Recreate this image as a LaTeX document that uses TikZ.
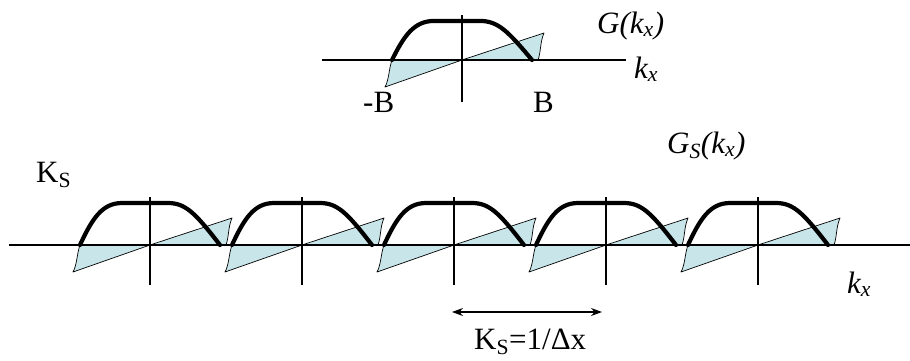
\documentclass[tikz,border=0pt]{standalone}
\usepackage{fontspec}
\setmainfont{Liberation Serif}
\definecolor{specblue}{RGB}{200,230,234}
\usetikzlibrary{arrows.meta}

\begin{document}
\begin{tikzpicture}[x=1pt,y=-1pt,
  axis/.style={draw,line width=1.1pt},
  envelope/.style={draw,line width=4.2pt,line cap=round},
  lobe/.style={fill=specblue,draw=black,line width=0.7pt,line join=round},
  lbl/.style={anchor=base west,inner sep=0pt,font=\fontsize{31}{36}\selectfont},
  pics/lobes/.style={code={
    \path[lobe] (-70,0) .. controls (-73,8) and (-73,20) .. (-77,27) -- (0,0) -- cycle;
    \path[lobe] (0,0) -- (82,-27) .. controls (78,-18) and (79,-8) .. (76,0) -- cycle;
  }},
  pics/envelope/.style={code={
    \draw[line width=1.1pt] (0,-48) -- (0,#1);
    \draw[envelope] (-70,0) .. controls (-58,-26) and (-48,-42) .. (-28,-42)
      -- (18,-42) .. controls (36,-42) and (46,-31) .. (70,0);
  }}]
  \useasboundingbox (0,0) rectangle (910,360);

  % single spectrum
  \pic at (462,60) {lobes};
  \draw[axis] (322,60) -- (626,60);
  \pic[yscale=0.93] at (462,60) {envelope=45};
  \node[lbl] (gk) at (597,33) {\itshape G(k\textsubscript{x})};
  \node[lbl] (kx1) at (634,78) {\itshape k\textsubscript{x}};
  \node[lbl] (mb) at (363,112) {-B};
  \node[lbl] (pb) at (533,112) {B};

  % sampled spectrum
  \foreach \c in {150,302,454,606,758}
    \pic at (\c,245) {lobes};
  \draw[axis] (9,245) -- (910,245);
  \foreach \c in {150,302,454,606,758}
    \pic at (\c,245) {envelope=40};
  \node[lbl] (ks) at (36,182) {K\textsubscript{S}};
  \node[lbl] (gs) at (667,153) {\itshape G\textsubscript{S}(k\textsubscript{x})};
  \node[lbl] (kx2) at (847,293) {\itshape k\textsubscript{x}};

  \coordinate (pl) at (452,312);
  \coordinate (pr) at (602,312);
  \draw[{Stealth[length=11pt,width=8pt]}-{Stealth[length=11pt,width=8pt]},line width=1.1pt] (pl) -- (pr);
  \node[lbl] (period) at (474,349) {K\textsubscript{S}=1/Δx};
\end{tikzpicture}
\end{document}
